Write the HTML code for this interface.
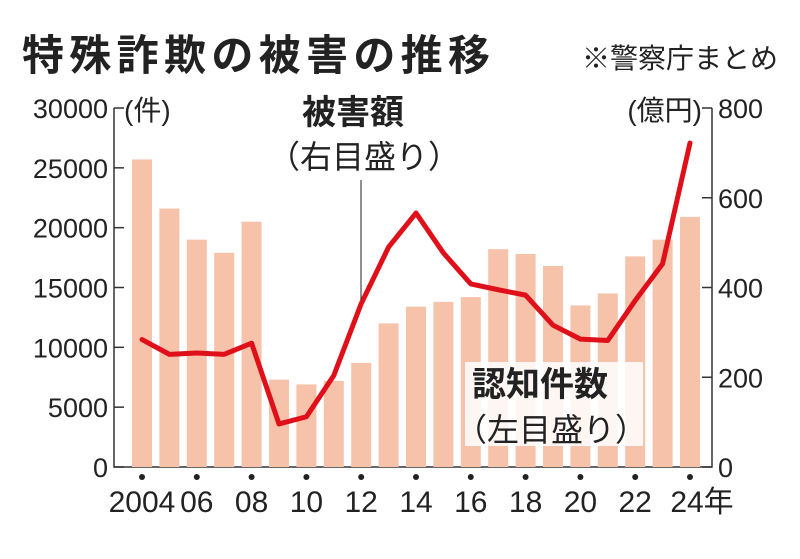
<!DOCTYPE html>
<html><head><meta charset="utf-8"><style>
body{margin:0;background:#fff;}
svg text{font-family:"Liberation Sans","Noto Sans CJK JP",sans-serif;fill:#222;}
</style></head><body>
<svg width="800" height="554" viewBox="0 0 800 554">
<text x="22" y="70" font-size="42" font-weight="bold" textLength="468">特殊詐欺の被害の推移</text>
<text x="778" y="68" font-size="28" text-anchor="end">※警察庁まとめ</text>
<g id="axes"></g>
<g id="bars"></g>
<g id="line"></g>
<rect x="465" y="362" width="178" height="84" fill="#fff" opacity="0.85"/>
<text x="302" y="124" font-size="34" font-weight="bold">被害額</text>
<text x="268" y="168" font-size="32">（右目盛り）</text>
<line x1="361" y1="180" x2="361" y2="300" stroke="#222" stroke-width="1"/>
<text x="472" y="396" font-size="34" font-weight="bold">認知件数</text>
<text x="455" y="441" font-size="32">（左目盛り）</text>
<text x="124" y="120" font-size="28">(件)</text>
<text x="702" y="120" font-size="28" text-anchor="end">(億円)</text>
</svg>
<script>
const years=[2004,2005,2006,2007,2008,2009,2010,2011,2012,2013,2014,2015,2016,2017,2018,2019,2020,2021,2022,2023,2024];
const counts=[25700,21600,19000,17900,20500,7300,6900,7200,8700,12000,13400,13800,14200,18200,17800,16800,13500,14500,17600,19000,20900];
const damage=[284,251,254,251,276,96,112,204,364,490,566,477,408,395,383,316,285,282,371,453,722];
const leftTicks=[0,5000,10000,15000,20000,25000,30000];
const rightTicks=[0,200,400,600,800];
const xLabels=["2004","06","08","10","12","14","16","18","20","22","24年"];
const NS="http://www.w3.org/2000/svg";
const X0=114,X1=712,Y0=467,Y1=108;
const x=i=>142+i*27.4;
const yL=v=>Y0-(v/30000)*(Y0-Y1);
const yR=v=>Y0-(v/800)*(Y0-Y1);
function mk(t,a,p){const e=document.createElementNS(NS,t);for(const k in a)e.setAttribute(k,a[k]);p.appendChild(e);return e;}
const ax=document.getElementById('axes'),bg=document.getElementById('bars'),lg=document.getElementById('line');
let e=mk('polyline',{points:`${X0},${Y1} ${X0},${Y0} ${X1},${Y0} ${X1},${Y1}`,fill:'none',stroke:'#333','stroke-width':1.5},ax);


leftTicks.forEach(v=>{
 const y=yL(v);
 let t=mk('line',{x1:X0,x2:X0+10,y1:y,y2:y,stroke:'#333','stroke-width':1.5},ax);
 
 
 let l=mk('text',{x:X0-6,y:y+10,'font-size':27,'text-anchor':'end'},ax);l.textContent=v;
 
 
});
rightTicks.forEach(v=>{
 const y=yR(v);
 let t=mk('line',{x1:X1-10,x2:X1,y1:y,y2:y,stroke:'#333','stroke-width':1.5},ax);
 
 
 let l=mk('text',{x:X1+6,y:y+10,'font-size':27},ax);l.textContent=v;
 
 
});
counts.forEach((c,i)=>{
 let r=mk('rect',{x:x(i)-10,y:yL(c),width:20,height:Y0-yL(c),fill:'#f6c2aa'},bg);
 
 
});
xLabels.forEach((s,k)=>{
 const i=k*2;
 let d=mk('circle',{cx:x(i),cy:477,r:3,fill:'#222'},ax);
 
 
 let l=mk('text',{x:x(i)+(k==10?12:0),y:512,'font-size':30,'text-anchor':'middle'},ax);l.textContent=s;
 
 
});
let p=mk('polyline',{points:damage.map((v,i)=>x(i)+','+yR(v)).join(' '),fill:'none',stroke:'#e0101a','stroke-width':5,'stroke-linejoin':'round','stroke-linecap':'round'},lg);


</script>
</body></html>
